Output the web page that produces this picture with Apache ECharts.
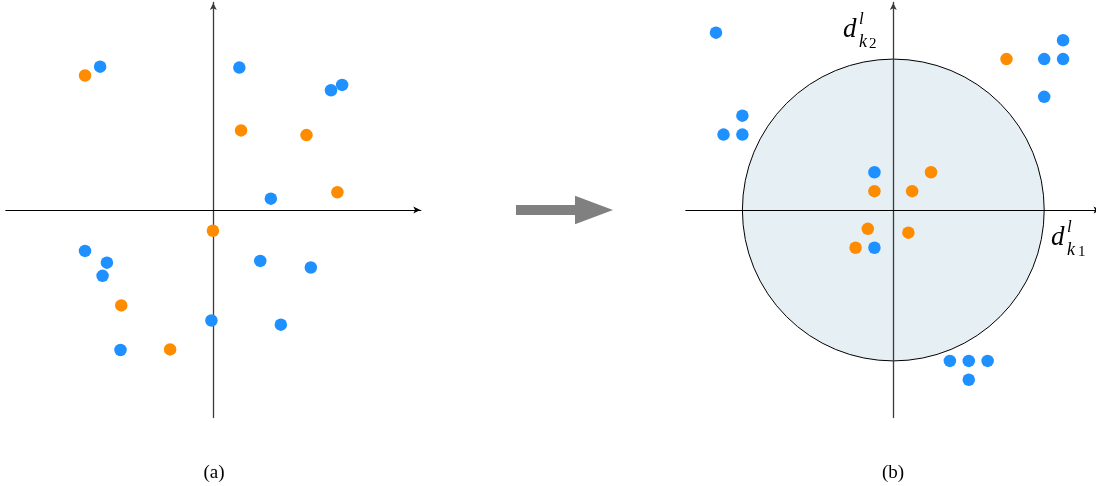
<!DOCTYPE html>
<html>
<head>
<meta charset="utf-8">
<script src="https://cdn.jsdelivr.net/npm/echarts@6/dist/echarts.min.js"></script>
<style>
  html, body { margin: 0; padding: 0; background: #fff; }
  #chart { width: 1096px; height: 486px; }
</style>
</head>
<body>
<div id="chart"></div>
<script>
// Panel (a): raw feature points
const blueA = [
  [-6.0, 7.6], [1.38, 7.55], [6.24, 6.35], [6.83, 6.63], [3.05, 0.6],
  [-6.8, -2.17], [-5.64, -2.79], [-5.87, -3.49], [2.49, -2.7], [5.17, -3.05],
  [-0.1, -5.86], [3.58, -6.08], [-4.92, -7.42]
];
const orangeA = [
  [-6.8, 7.13], [1.47, 4.22], [4.94, 3.97], [6.58, 0.94],
  [-0.02, -1.1], [-4.88, -5.06], [-2.29, -7.39]
];

// Panel (b): points after the transform, with the decision circle
const blueB = [
  [-9.4, 9.4], [-8, 5], [-9, 4], [-8, 4],
  [9, 9], [8, 8], [9, 8], [8, 6],
  [-1, 2], [-1, -2],
  [3, -8], [4, -8], [5, -8], [4, -9]
];
const orangeB = [
  [6, 8], [-1, 1], [1, 1], [2, 2], [-1.35, -1], [-2, -2], [0.8, -1.2]
];
const circleB = [[0, 0, 8]]; // centre x, centre y, radius

const panelLabels = ['(a)', '(b)'];

const BLUE = '#1e90ff';
const ORANGE = '#ff8c00';
const arrowPath = 'path://M5,0 L10,10 L5,7.5 L0,10 Z';

// both panels share the same scale: 22 data units over 415 px
const SIDE = 415, HALF = 11;
const UNIT = SIDE / (2 * HALF);
const W = 1096;
const gridBLeft = 685.8;
const gridBWidth = W - gridBLeft;           // right panel runs to the page edge
const xMaxB = gridBWidth / UNIT - HALF;     // keeps the same scale as panel (a)

function makeX(gridIndex, max, tipOffset) {
  return {
    type: 'value', gridIndex, min: -HALF, max,
    axisLine: { onZero: true, symbol: ['none', arrowPath], symbolSize: [7, 9], symbolOffset: [0, tipOffset],
      lineStyle: { color: '#000', width: 1.1 } },
    axisTick: { show: false }, axisLabel: { show: false }, splitLine: { show: false }, z: 1
  };
}
function makeY(gridIndex) {
  return {
    type: 'value', gridIndex, min: -HALF, max: HALF,
    axisLine: { onZero: true, symbol: ['none', arrowPath], symbolSize: [7, 9], symbolOffset: [0, -4],
      lineStyle: { color: '#3a3a3a', width: 1.3 } },
    axisTick: { show: false }, axisLabel: { show: false }, splitLine: { show: false }, z: 1
  };
}
function dots(data, color, idx) {
  return {
    type: 'scatter', xAxisIndex: idx, yAxisIndex: idx, data,
    symbolSize: 12.5, itemStyle: { color, opacity: 1 }, z: 3, silent: true
  };
}

const serif = '"Liberation Serif", "DejaVu Serif", serif';
function mathText(text, x, y, size, italic) {
  return {
    type: 'text', x, y, z: 10,
    style: { text, font: (italic ? 'italic ' : '') + size + 'px ' + serif, fill: '#000',
      textAlign: 'left', textVerticalAlign: 'bottom' }
  };
}

const chart = echarts.init(document.getElementById('chart'), null, { renderer: 'canvas' });
chart.setOption({
  animation: false,
  backgroundColor: '#fff',
  grid: [
    { left: 5.8, top: 2.5, width: SIDE, height: SIDE },
    { left: gridBLeft, top: 2.5, width: gridBWidth, height: SIDE }
  ],
  xAxis: [makeX(0, HALF, -4), makeX(1, xMaxB, 1)],
  yAxis: [makeY(0), makeY(1)],
  series: [
    {
      type: 'custom', xAxisIndex: 1, yAxisIndex: 1, data: circleB, z: 0, silent: true,
      renderItem: function (params, api) {
        const c = api.coord([api.value(0), api.value(1)]);
        const r = api.size([0, api.value(2)])[1];
        return {
          type: 'circle', shape: { cx: c[0], cy: c[1], r },
          style: { fill: '#e6eff4', stroke: '#000', lineWidth: 1 }
        };
      }
    },
    dots(blueA, BLUE, 0), dots(orangeA, ORANGE, 0),
    dots(blueB, BLUE, 1), dots(orangeB, ORANGE, 1)
  ],
  graphic: [
    // transition arrow between the panels
    { type: 'polygon', z: 5, shape: { points: [[516, 205], [575, 205], [575, 195.7], [613, 210], [575, 224.3], [575, 215], [516, 215]] },
      style: { fill: '#808080' } },
    // axis names d^l_{k2} and d^l_{k1}
    mathText('d', 843, 43, 27, true),
    mathText('l', 859, 28, 17, true),
    mathText('k', 859, 51, 18, true),
    mathText('2', 869, 52, 15, false),
    mathText('d', 1051, 251, 27, true),
    mathText('l', 1067, 236, 17, true),
    mathText('k', 1067, 259, 18, true),
    mathText('1', 1078, 260, 15, false),
    // panel captions
    { type: 'text', x: 214, y: 473, z: 10, style: { text: panelLabels[0], font: '19px ' + serif, fill: '#000', textAlign: 'center', textVerticalAlign: 'middle' } },
    { type: 'text', x: 893, y: 473, z: 10, style: { text: panelLabels[1], font: '19px ' + serif, fill: '#000', textAlign: 'center', textVerticalAlign: 'middle' } }
  ]
});
</script>
</body>
</html>
